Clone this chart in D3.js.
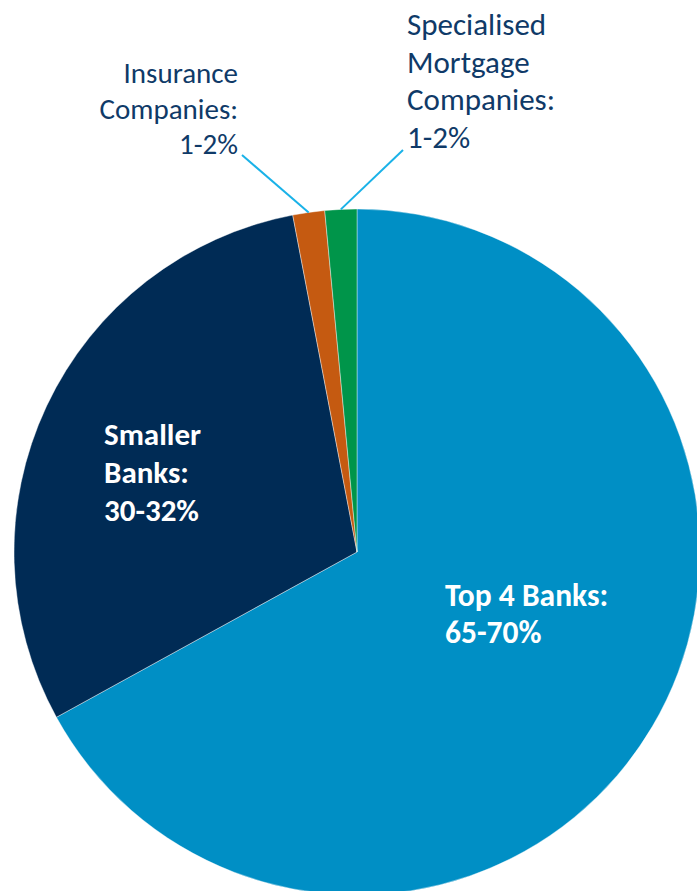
<!DOCTYPE html>
<html>
<head>
<meta charset="utf-8">
<script src="https://cdn.jsdelivr.net/npm/d3@7"></script>
<style>
  html, body { margin: 0; padding: 0; background: #ffffff; }
  svg { display: block; }
  text { font-family: Carlito, Lato, "Open Sans", sans-serif; }
</style>
</head>
<body>
<svg id="chart" width="697" height="891"></svg>
<script>
// ---- data ----
const categories = ["Top 4 Banks", "Smaller Banks", "Insurance Companies", "Specialised Mortgage Companies"];
const shares = [67, 30, 1.5, 1.5];
const rangeLabels = ["65-70%", "30-32%", "1-2%", "1-2%"];
const labelLines = [
  ["Top 4 Banks:", "65-70%"],
  ["Smaller", "Banks:", "30-32%"],
  ["Insurance", "Companies:", "1-2%"],
  ["Specialised", "Mortgage", "Companies:", "1-2%"]
];
const colors = ["#008FC5", "#002B55", "#C55A11", "#00954A"];

// ---- layout ----
const W = 697, H = 891;
const cx = 357, cy = 552, R = 343;
const labelCfg = [
  { x: 445, y: 606, anchor: "start", size: 31.5, weight: "bold", fill: "#ffffff", lh: 37, width: 167 },
  { x: 104, y: 445, anchor: "start", size: 31, weight: "bold", fill: "#ffffff", lh: 38, width: 96 },
  { x: 238, y: 83,  anchor: "end",   size: 29, weight: "normal", fill: "#0F3A68", lh: 35.5, width: 115, leader: [242, 155] },
  { x: 407, y: 35,  anchor: "start", size: 31, weight: "normal", fill: "#0F3A68", lh: 37.5, width: 140, leader: [403, 150] }
];

const svg = d3.select("#chart");
const g = svg.append("g").attr("transform", `translate(${cx},${cy})`);

const pie = d3.pie().sort(null).value(d => d)(shares);
const arc = d3.arc().innerRadius(0).outerRadius(R);
const edgeArc = d3.arc().innerRadius(R).outerRadius(R);

g.selectAll("path.slice")
  .data(pie)
  .join("path")
  .attr("class", "slice")
  .attr("d", arc)
  .attr("fill", (d, i) => colors[i])
  .attr("stroke", "#ffffff")
  .attr("stroke-width", 0.4);

// leader lines
pie.forEach((d, i) => {
  const c = labelCfg[i];
  if (!c.leader) return;
  const [ex, ey] = edgeArc.centroid(d);
  svg.append("line")
    .attr("x1", c.leader[0]).attr("y1", c.leader[1])
    .attr("x2", cx + ex).attr("y2", cy + ey)
    .attr("stroke", "#1AB2E8")
    .attr("stroke-width", 2);
});

// labels
labelLines.forEach((lines, i) => {
  const c = labelCfg[i];
  const t = svg.append("text")
    .attr("x", c.x).attr("y", c.y)
    .attr("text-anchor", c.anchor)
    .attr("font-size", c.size)
    .attr("font-weight", c.weight)
    .attr("fill", c.fill);
  lines.forEach((ln, j) => {
    t.append("tspan").attr("x", c.x).attr("y", c.y + j * c.lh).text(ln);
  });
});
</script>
</body>
</html>
